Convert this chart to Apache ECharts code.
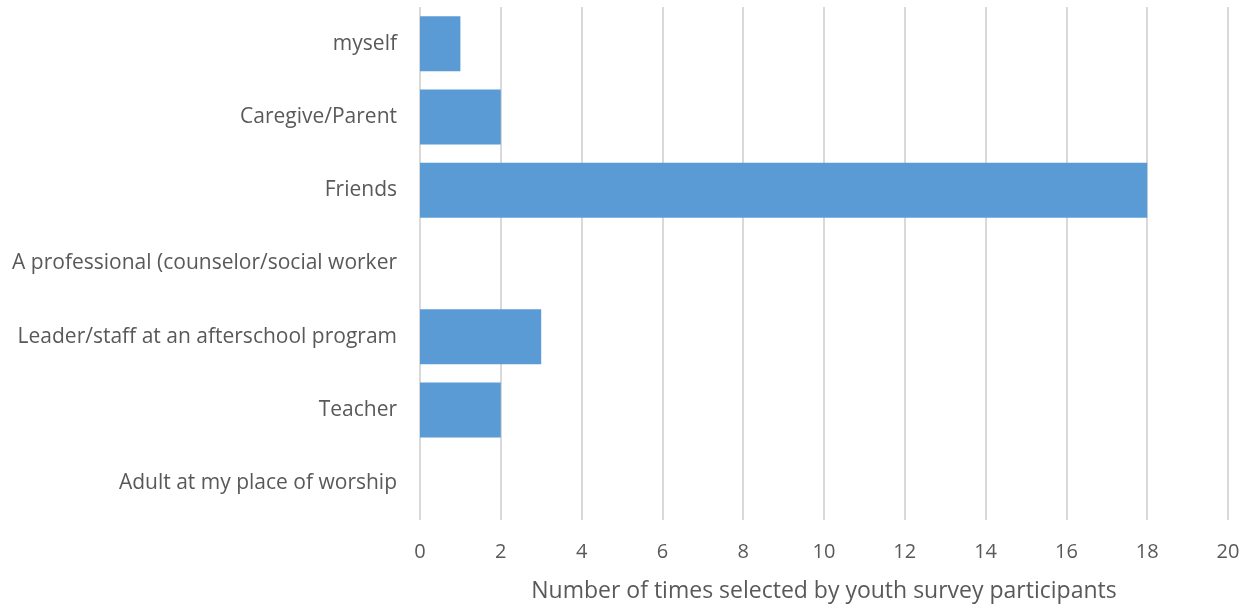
<!DOCTYPE html>
<html>
<head>
<meta charset="utf-8">
<script src="https://cdn.jsdelivr.net/npm/echarts@6/dist/echarts.min.js"></script>
<style>html,body{margin:0;padding:0;background:#fff;}#c{width:1250px;height:608px;}</style>
</head>
<body>
<div id="c"></div>
<script>
const categories = ["myself", "Caregive/Parent", "Friends", "A professional (counselor/social worker", "Leader/staff at an afterschool program", "Teacher", "Adult at my place of worship"];
const values = [1, 2, 18, 0, 3, 2, 0];
const axisTitle = "Number of times selected by youth survey participants";

const chart = echarts.init(document.getElementById('c'));
const font = "'Open Sans', 'Liberation Sans', sans-serif";
chart.setOption({
  animation: false,
  grid: { left: 420, right: 22, top: 7, bottom: 87, containLabel: false },
  xAxis: {
    type: 'value', min: 0, max: 20, interval: 2,
    name: axisTitle, nameLocation: 'middle', nameGap: 60,
    nameTextStyle: { fontFamily: font, fontSize: 23, color: '#595959' },
    axisLine: { show: false }, axisTick: { show: false },
    axisLabel: { fontFamily: font, fontSize: 20, color: '#595959', margin: 22 },
    splitLine: { show: true, lineStyle: { color: '#D9D9D9', width: 2 } }
  },
  yAxis: {
    type: 'category', data: categories, inverse: true,
    axisLine: { show: false }, axisTick: { show: false },
    axisLabel: { fontFamily: font, fontSize: 21, color: '#595959', margin: 23 }
  },
  series: [{
    type: 'bar', data: values, barCategoryGap: '25%',
    itemStyle: { color: '#5B9BD5' }
  }]
});
</script>
</body>
</html>
